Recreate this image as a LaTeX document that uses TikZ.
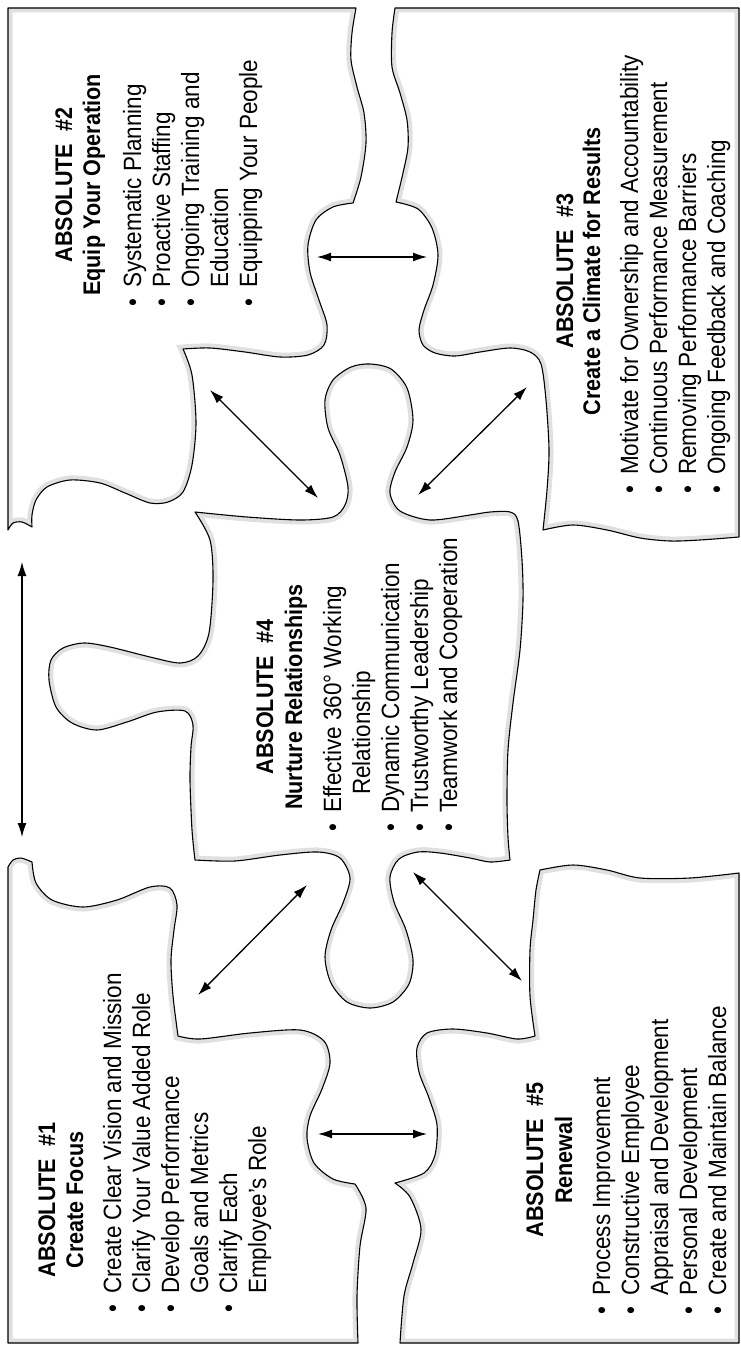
\documentclass[tikz,border=0pt]{standalone}
\usepackage{fontspec}
\setmainfont{Liberation Sans}[FakeStretch=0.9]
\usetikzlibrary{arrows.meta}
\begin{document}
\begin{tikzpicture}[x=1pt,y=-1pt,
  outline/.style={draw=black,line width=1.1pt,line join=round},
  band/.style={draw=black!12,line width=9pt},
  link/.style={line width=1.3pt,{Latex[length=14pt,width=9pt]}-{Latex[length=14pt,width=9pt]}},
  ttl/.style={rotate=90,anchor=base,inner sep=0pt,font=\fontsize{24}{28}\selectfont\bfseries},
  lst/.style={rotate=90,anchor=north west,inner sep=0pt,font=\fontsize{25}{29}\selectfont}]
\useasboundingbox[fill=white] (0,0) rectangle (740,1346);

\def\pieceB{(8,8) -- (356,8) -- plot[smooth] coordinates {(356,8) (352,33) (351,60) (357,87) (364,113) (366,143) (361,177) (353,203)} -- plot[smooth] coordinates {(353,203) (333,207) (316,220) (308,245) (310,272) (319,300) (327,325) (324,345) (308,355) (280,357) (245,352) (210,348) (183,349)} -- plot[smooth] coordinates {(183,349) (192,375) (196,423) (192,465) (183,492) (168,502) (150,503) (125,493) (100,483) (70,480) (47,487) (36,500) (32,515) (32,527)} -- plot[smooth] coordinates {(32,527) (22,522) (13,523) (8,530)} -- cycle}

\def\pieceC{(395,8) -- (739,8) -- (739,537) -- plot[smooth] coordinates {(739,537) (700,540) (670,541) (640,538) (607,530) (573,525) (543,530)} -- plot[smooth] coordinates {(543,530) (547,490) (549,450) (546,400) (541,364) (530,352) (510,348) (480,352) (455,356) (435,353) (423,345) (419,330) (424,310) (433,285) (438,255) (432,228) (418,209) (396,202)} -- plot[smooth] coordinates {(396,202) (403,173) (408,147) (407,120) (400,93) (392,67) (392,33) (395,8)} -- cycle}

\def\pieceD{plot[smooth] coordinates {(195,512) (247,517) (300,520) (333,517) (345,505) (348,487) (340,455) (328,428) (325,400) (333,380) (351,367) (370,364) (391,369) (407,388) (413,420) (407,447) (395,472) (390,493) (400,511) (430,520) (470,515) (490,512) (510,512) (518,521) (522,560) (523,600) (520,650) (513,703) (508,750) (507,800) (508,837) (510,860)} -- plot[smooth] coordinates {(510,860) (490,862) (470,858) (440,853) (418,852) (399,859) (390,877) (394,902) (406,930) (413,960) (409,984) (393,1002) (370,1008) (347,1002) (331,983) (325,957) (331,930) (343,903) (350,878) (340,858) (318,852) (280,855) (235,861) (195,860)} -- plot[smooth] coordinates {(195,860) (192,830) (190,780) (191,747) (193,725) (185,711) (157,712) (127,722) (97,730) (72,723) (56,707) (49,680) (51,660) (63,648) (84,643) (110,647) (150,657) (180,663) (198,656) (209,633) (213,580) (210,540) (195,512)} -- cycle}

\def\pieceA{(8,867) -- (8,1343) -- (358,1343) -- plot[smooth] coordinates {(358,1343) (357,1296) (360,1246) (366,1208) (355,1184)} -- plot[smooth] coordinates {(355,1184) (333,1179) (314,1163) (307,1138) (310,1116) (322,1089) (330,1063) (324,1041) (300,1030) (250,1033) (200,1039) (178,1036)} -- plot[smooth] coordinates {(178,1036) (173,996) (171,960) (174,930) (177,905) (170,888) (150,887) (117,900) (83,907) (52,900) (36,883) (32,862)} -- plot[smooth] coordinates {(32,862) (21,858) (13,860) (8,867)} -- cycle}

\def\pieceE{(400,1343) -- (739,1343) -- (739,873) -- plot[smooth] coordinates {(739,873) (690,878) (640,878) (607,870) (573,865) (540,870)} -- plot[smooth] coordinates {(540,870) (536,890) (533,920) (530,950) (530,996) (535,1036)} -- plot[smooth] coordinates {(535,1036) (517,1039) (487,1033) (453,1029) (427,1033) (417,1048) (419,1072) (429,1098) (437,1125) (435,1155) (424,1173) (395,1183)} -- plot[smooth] coordinates {(395,1183) (410,1197) (421,1229) (413,1263) (404,1296) (400,1343)} -- cycle}

\foreach \p in {\pieceA,\pieceB,\pieceC,\pieceD,\pieceE}{
  \begin{scope}
    \clip \p;
    \draw[band] \p;
  \end{scope}
  \draw[outline] \p;
}

% arrow end points
\coordinate (t1) at (317,257);  \coordinate (t2) at (427,257);
\coordinate (d1) at (210,390);  \coordinate (d2) at (318,498);
\coordinate (e1) at (418,495);  \coordinate (e2) at (527,387);
\coordinate (v1) at (22,562);   \coordinate (v2) at (22,837);
\coordinate (f1) at (307,885);  \coordinate (f2) at (198,995);
\coordinate (g1) at (413,872);  \coordinate (g2) at (522,981);
\coordinate (b1) at (318,1134); \coordinate (b2) at (427,1134);
\draw[link] (t1) -- (t2);
\draw[link] (d1) -- (d2);
\draw[link] (e1) -- (e2);
\draw[link] (v1) -- (v2);
\draw[link] (f1) -- (f2);
\draw[link] (g1) -- (g2);
\draw[link] (b1) -- (b2);

% texts
\node[ttl] (h2a) at (72,185) {ABSOLUTE\hspace{0.5em}\#2};
\node[ttl] (h2b) at (100,185) {Equip Your Operation};
\node[lst] (l2) at (120.7,307) {\begin{tabular}{@{}l@{\hspace{11pt}}l@{}}
\textbullet & Systematic Planning\\
\textbullet & Proactive Staffing\\
\textbullet & Ongoing Training and\\
 & Education\\
\textbullet & Equipping Your People\end{tabular}};

\node[ttl] (h3a) at (573,271) {ABSOLUTE\hspace{0.5em}\#3};
\node[ttl] (h3b) at (600,271) {Create a Climate for Results};
\node[lst] (l3) at (617.7,494) {\begin{tabular}{@{}l@{\hspace{11pt}}l@{}}
\textbullet & Motivate for Ownership and Accountability\\
\textbullet & Continuous Performance Measurement\\
\textbullet & Removing Performance Barriers\\
\textbullet & Ongoing Feedback and Coaching\end{tabular}};

\node[ttl] (h4a) at (273,697) {ABSOLUTE\hspace{0.5em}\#4};
\node[ttl] (h4b) at (302,697) {Nurture Relationships};
\node[lst] (l4) at (320.7,832) {\begin{tabular}{@{}l@{\hspace{11pt}}l@{}}
\textbullet & Effective 360° Working\\
 & \hspace{18pt}Relationship\\
\textbullet & Dynamic Communication\\
\textbullet & Trustworthy Leadership\\
\textbullet & Teamwork and Cooperation\end{tabular}};

\node[ttl] (h1a) at (55,1200) {ABSOLUTE\hspace{0.5em}\#1};
\node[ttl] (h1b) at (83,1200) {Create Focus};
\node[lst] (l1) at (100.7,1313) {\begin{tabular}{@{}l@{\hspace{11pt}}l@{}}
\textbullet & Create Clear Vision and Mission\\
\textbullet & Clarify Your Value Added Role\\
\textbullet & Develop Performance\\
 & Goals and Metrics\\
\textbullet & Clarify Each\\
 & Employee’s Role\end{tabular}};

\node[ttl] (h5a) at (543,1160) {ABSOLUTE\hspace{0.5em}\#5};
\node[ttl] (h5b) at (572,1160) {Renewal};
\node[lst] (l5) at (589.7,1315) {\begin{tabular}{@{}l@{\hspace{11pt}}l@{}}
\textbullet & Process Improvement\\
\textbullet & Constructive Employee\\
 & Appraisal and Development\\
\textbullet & Personal Development\\
\textbullet & Create and Maintain Balance\end{tabular}};
\end{tikzpicture}
\end{document}
